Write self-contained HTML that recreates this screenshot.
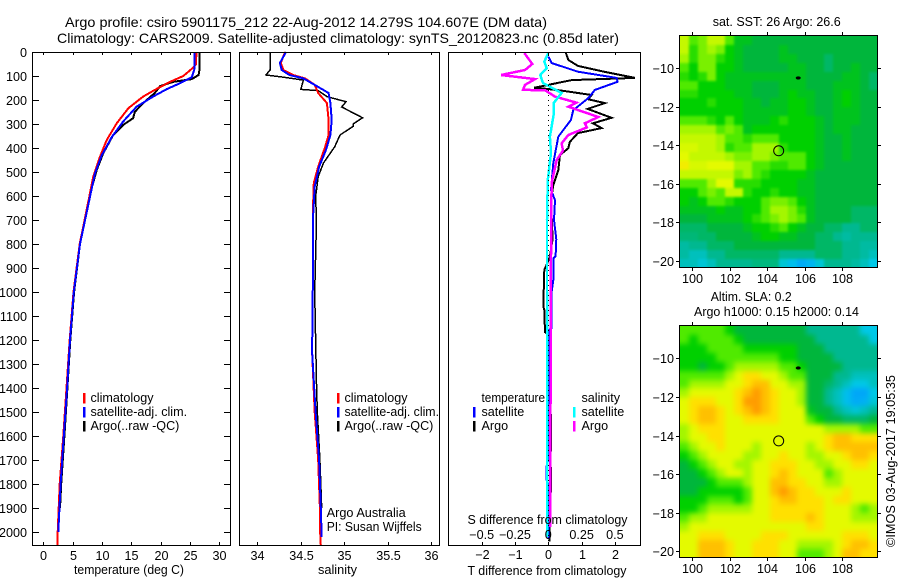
<!DOCTYPE html>
<html><head><meta charset="utf-8"><title>Argo profile</title>
<style>
html,body{margin:0;padding:0;background:#fff;width:900px;height:580px;overflow:hidden}
svg{display:block}
text{font-family:"Liberation Sans",sans-serif;font-size:12.6px;fill:#000}
.ln{fill:none;shape-rendering:crispEdges;stroke-linejoin:miter}
.fr{fill:none;stroke:#000;stroke-width:1;shape-rendering:crispEdges}
.tk{stroke:#000;stroke-width:1;shape-rendering:crispEdges}
.bar{shape-rendering:crispEdges}
</style></head>
<body>
<svg id="fig" width="900" height="580" viewBox="0 0 900 580" xmlns="http://www.w3.org/2000/svg">
<defs>
<clipPath id="clipSst"><rect x="680" y="36" width="198" height="232"/></clipPath>
<clipPath id="clipSla"><rect x="680" y="326" width="198" height="232"/></clipPath>
<filter id="blurSst" filterUnits="userSpaceOnUse" x="640" y="0" width="260" height="300" color-interpolation-filters="sRGB"><feGaussianBlur stdDeviation="1.2"/></filter>
<filter id="blurSla" filterUnits="userSpaceOnUse" x="640" y="290" width="260" height="290" color-interpolation-filters="sRGB"><feGaussianBlur stdDeviation="2.6"/></filter>
</defs>
<rect width="900" height="580" fill="#fff"/>
<text x="65" y="27" style="font-size:14px" textLength="482" lengthAdjust="spacingAndGlyphs">Argo profile: csiro 5901175_212 22-Aug-2012 14.279S 104.607E (DM data)</text>
<text x="57" y="43" style="font-size:14px" textLength="562" lengthAdjust="spacingAndGlyphs">Climatology: CARS2009. Satellite-adjusted climatology: synTS_20120823.nc (0.85d later)</text>
<g id="linesLayer"></g>
<g clip-path="url(#clipSst)"><g id="sstCells" filter="url(#blurSst)"></g></g>
<g clip-path="url(#clipSla)"><g id="slaCells" filter="url(#blurSla)"></g></g>
<rect class="fr" x="32.5" y="52.5" width="198" height="493"/>
<rect class="fr" x="239.5" y="52.5" width="200" height="493"/>
<rect class="fr" x="448.5" y="52.5" width="192" height="493"/>
<rect class="fr" x="679.5" y="35.5" width="198" height="232"/>
<rect class="fr" x="679.5" y="325.5" width="198" height="232"/>
<g id="axisLayer"></g>

<text x="74" y="574" textLength="110" lengthAdjust="spacingAndGlyphs">temperature (deg C)</text>
<text x="318" y="574" textLength="39" lengthAdjust="spacingAndGlyphs">salinity</text>
<text x="467.5" y="524" textLength="160" lengthAdjust="spacingAndGlyphs">S difference from climatology</text>
<text x="467.5" y="575" textLength="159" lengthAdjust="spacingAndGlyphs">T difference from climatology</text>

<g>
<rect class="bar" x="83" y="393" width="2.5" height="10.5" fill="#f00"/>
<rect class="bar" x="83" y="407" width="2.5" height="10.5" fill="#00f"/>
<rect class="bar" x="83" y="421" width="2.5" height="10.5" fill="#000"/>
<text x="90.5" y="402">climatology</text>
<text x="90.5" y="416">satellite-adj. clim.</text>
<text x="90.5" y="430">Argo(..raw -QC)</text>
</g>
<g>
<rect class="bar" x="337" y="393" width="2.5" height="10.5" fill="#f00"/>
<rect class="bar" x="337" y="407" width="2.5" height="10.5" fill="#00f"/>
<rect class="bar" x="337" y="421" width="2.5" height="10.5" fill="#000"/>
<text x="344.5" y="402">climatology</text>
<text x="344.5" y="416" textLength="94.5" lengthAdjust="spacingAndGlyphs">satellite-adj. clim.</text>
<text x="344.5" y="430">Argo(..raw -QC)</text>
<text x="326.7" y="517" textLength="79" lengthAdjust="spacingAndGlyphs">Argo Australia</text>
<text x="326.7" y="531" textLength="95" lengthAdjust="spacingAndGlyphs">PI: Susan Wijffels</text>
</g>
<g>
<rect class="bar" x="473" y="407" width="2.5" height="10.5" fill="#00f"/>
<rect class="bar" x="473" y="421" width="2.5" height="10.5" fill="#000"/>
<rect class="bar" x="573" y="407" width="2.5" height="10.5" fill="#0ff"/>
<rect class="bar" x="573" y="421" width="2.5" height="10.5" fill="#f0f"/>
<text x="481.5" y="402" textLength="63.5" lengthAdjust="spacingAndGlyphs">temperature</text>
<text x="481.5" y="416">satellite</text>
<text x="481.5" y="430">Argo</text>
<text x="581.5" y="402">salinity</text>
<text x="581.5" y="416">satellite</text>
<text x="581.5" y="430">Argo</text>
</g>

<text x="712.7" y="26" textLength="128" lengthAdjust="spacingAndGlyphs">sat. SST: 26 Argo: 26.6</text>
<text x="710.7" y="301" textLength="81" lengthAdjust="spacingAndGlyphs">Altim. SLA: 0.2</text>
<text x="694" y="316" textLength="165" lengthAdjust="spacingAndGlyphs">Argo h1000: 0.15 h2000: 0.14</text>
<text transform="translate(895,547) rotate(-90)" textLength="172" lengthAdjust="spacingAndGlyphs">©IMOS 03-Aug-2017 19:05:35</text>
</svg>
<script>
/* ---- chart data ---- */
var depthTicks = [0,100,200,300,400,500,600,700,800,900,1000,1100,1200,1300,1400,1500,1600,1700,1800,1900,2000];
var tempTicks = [0,5,10,15,20,25,30];
var salTicks = [34,34.5,35,35.5,36];
var tDiffTicks = [-2,-1,0,1,2];
var tDiffLabels = ['−2','−1','0','1','2'];
var sDiffTicks = [-0.5,-0.25,0,0.25,0.5];
var sDiffLabels = ['−0.5','−0.25','0','0.25','0.5'];
var lonTicks = [100,102,104,106,108];
var latTicks = [10,12,14,16,18,20];

var tempClimDepth = [0,50,68,100,124,158,186,234,297,367,436,519,603,800,1000,1200,1400,1600,1800,2000,2055];
var tempClimValue = [26.07,26.05,25.4,23.85,21.6,19.0,17.0,14.5,12.5,10.8,9.66,8.5,7.84,6.2,5.15,4.5,3.95,3.4,2.8,2.45,2.38];
var tempSatDepth = [0,60,75,105,130,155,186,228,290,355,431,505,603,800,1000,1200,1400,1600,1800,2000];
var tempSatValue = [25.8,25.8,25.7,25.3,23.3,21,18.7,15.9,13.6,11.65,9.95,8.8,7.96,6.25,5.2,4.55,4.05,3.5,2.95,2.55];
var tempArgoDepth = [0,75,96,113,124,142,171,213,249,276,304,346,422,492,603,800,1000,1200,1400,1600,1800,1900];
var tempArgoValue = [26.6,26.6,26.45,25.3,22.2,19.9,19,17,15.6,15.3,13.6,11.9,10.2,9.1,7.84,6.25,5.25,4.6,4.1,3.6,3.05,2.85];

var salClimDepth = [0,46,75,96,110,137,171,213,283,346,395,478,546,646,900,1250,1500,1700,1900,1980,2055];
var salClimValue = [34.32,34.27,34.3,34.41,34.55,34.66,34.7,34.8,34.82,34.82,34.78,34.7,34.65,34.64,34.64,34.63,34.66,34.7,34.72,34.72,34.73];
var salSatDepth = [0,46,75,96,110,137,171,213,283,346,408,478,561,690,900,1250,1500,1700,1900,2020];
var salSatValue = [34.33,34.26,34.28,34.37,34.53,34.66,34.82,34.84,34.855,34.84,34.79,34.71,34.66,34.64,34.64,34.63,34.67,34.71,34.73,34.74];
var salArgoDepth = [0,62,75,96,105,117,156,161,186,207,229,274,300,310,346,395,463,519,603,700,1000,1383,1500,1700,1900];
var salArgoValue = [34.146,34.146,34.146,34.1,34.3,34.53,34.5,34.7,34.8,35.02,34.97,35.21,35.1,35.1,34.95,34.89,34.76,34.7,34.67,34.68,34.66,34.68,34.69,34.72,34.74];

var tDiffArgoDepth = [4,33,58,83,108,117,149,153,161,179,197,213,237,274,297,317,338,374,401,429,492,554,617,780,850,880,908,1060,1075,1167,1180,1500,1512,1658,1700,1735,1830,1860,2040];
var tDiffArgoValue = [0.53,0.6,0.89,1.7,2.6,0.7,-0.43,-0.1,0.4,1.3,1.2,1.7,1.18,1.9,1.34,1.6,0.89,0.65,0.6,0.35,0.3,0.15,0.08,0.13,0.05,-0.03,-0.12,-0.15,-0.12,-0.1,0,0.03,0.08,0.08,0.04,0.08,0.08,0.03,0.03];
var tDiffSatDepth = [19,46,82,108,124,158,192,242,283,353,463,575,617,700,780,850,860,950,1000,1150,1160,1700,1730,1780,1800,2030];
var tDiffSatValue = [0,0.1,0.89,2.05,2.08,1.4,1.2,0.75,0.68,0.3,0.15,0.08,0.2,0.17,0.24,0.22,0.15,0.15,0.1,0.1,0,0,-0.06,-0.06,0,0];
var sDiffArgoDepth = [4,50,75,96,113,137,158,159,186,211,228,271,297,314,346,381,410,450,546,1000,1980];
var sDiffArgoValue = [-0.18,-0.12,-0.175,-0.355,-0.1,-0.175,-0.19,-0.025,0.05,0.21,0.15,0.375,0.275,0.29,0.15,0.1,0.11,0.063,0.025,0.018,0.015];
var sDiffSatDepth = [4,40,67,96,129,171,213,262,353,421,533,700,1000,1500,2020];
var sDiffSatValue = [0,-0.03,-0.012,-0.06,-0.04,0.1,0.04,0.04,0.012,0.02,-0.004,-0.01,-0.01,-0.01,-0.01];

var floatLon = 104.607;
var floatLat = 14.279;
var trackLon = 105.65;
var trackLat = 10.5;

var levelColors = ['#0098ff','#00c8e8','#00b890','#00b63c','#00d000','#50ea00','#a4f600','#e4fa00','#ffe000','#ffc000','#ff9c00'];

var sstGrid = [
[6.5,5,5.5,6.5,6.5,5,3.5,3.5,3,3,3,3,3,3,3,3,3,3,3,3,3,3],
[6.5,4.5,5.5,6,5.5,4,3.5,3,3,3,3,3.5,3,3,3,3,3,3,3,3,3,3],
[6,4.5,5.5,5.5,4.5,4,3.5,3,3,3,3,3.5,3.5,3,3,3,2.5,3,3,3,3,3],
[5,4,5.5,5.5,4,4,3.5,3,3,3,3,3,3.5,3.5,3,3,2.5,3,3,3.5,3,3],
[4.5,4,4.5,5.5,4,3.5,3.5,3.5,3.5,3.5,3.5,3.5,3.5,3.5,3,3,3,3,3.5,3.5,3,2.5],
[5,5,4,4,4,3.5,3.5,3.5,3,3,3,3.5,3.5,3.5,3,3,3,3.5,3.5,3.5,3,2.5],
[4.5,4.5,4,4,4,4,3.5,3.5,3,3,3,3.5,4,3.5,3.5,3,3,3.5,4,3.5,3,3],
[4,4,4,4.5,4,4,4,3.5,3.5,3,3.5,3.5,4,4,3.5,3,3,3.5,4,3.5,3,3],
[4,4,4,4,4,4,4,3.5,3.5,3.5,3.5,3.5,4,4,3.5,3,3,3.5,3.5,3.5,3,3],
[5,5,5,4.5,4,5,4,3.5,3.5,3.5,4,4.5,4,4,4,3.5,3,3.5,3.5,3.5,3,3],
[6,6,6,6,5,5.5,5,3.5,4,4,4,4,4,4,4,3.5,3,3.5,3.5,3,3,3],
[6.5,6.5,6.5,6.5,6,5,5,4.5,5,5,5,4,4,4,4,3.5,3,3,3.5,3,3,3],
[6.8,6.8,6.5,6.5,6,4.5,5,5,6,6,6,4.5,4,4,4,3.5,3,3,3.5,3,3,3],
[7,6.5,6.5,6.5,6.5,6,5.5,5.5,6,6,5.5,5,5,5,4,3.5,3,3,3.5,3,3,3],
[7.5,6.8,6.8,7,7,7,6,6,5,5,4.5,4.5,5,5,4,3.5,3,3,3,3,3,3],
[6.5,6.5,6.5,6.5,6.5,6.5,5.5,6,5,4.5,4,4,4,4,3.5,3,3,3,3,3,3,3],
[5,5,5,6,7,7,4.5,4.5,4.5,4,4,4,4,3.5,3.5,3,3,3,3,3,3,3],
[4,4,5,5.5,5,6.5,6.5,4.5,4,4,4.5,4,4,3.5,3.5,3,3,3,3,3,3,3],
[4,3.5,4,5,5,4.5,4,4,4,5,5.5,5.5,5,4,3.5,3,3,3,3,3,3,3],
[3.5,3.5,3.5,3.5,4,3.5,3.5,4,4,5,6,6,5.5,4.5,3.5,3,3,3,3,2.5,2.5,2.5],
[3,3,3,3.5,3.5,3.5,3.5,4,4.5,5,5.5,6,5.5,5,3.5,3,3,3,3,2.5,2.5,2.5],
[2.5,2.5,2.5,3,3,3,3,3.5,4,4,4.5,5,4,3.5,3,3,2.5,2.5,2,2,2.5,2.5],
[2.3,2.3,2.5,2.5,3,3,3,3,3.5,4,4,3.5,3.5,3,3,2.5,2.5,2,1.8,2,2,2],
[1.8,2,2,2.5,2.5,2.5,3,3,3,3,3,3,3,3,3,2.5,2.5,2.5,2,2,1.8,1.8],
[1.8,1.5,1.5,2,2,2.5,2.5,2.5,2.5,2.5,2.5,2,2,2,2,2.5,2.5,2.5,2,2,1.8,1.5],
[1.5,1.5,1.2,1.5,2,2,2,2,2.2,2.2,2.2,1.2,0.8,0.4,0.6,1.2,2,2,2,1.8,1.5,1]
];
var slaGrid = [
[5,5,5,5,5,4,3,3,3,3,3,3,3,3,2,2,2,2,2,2,1,1],
[5,4,5,5,5,5,4,3,3,3,3,3,3,3,3,2,2,2,2,2,2,1],
[4,4,4,5,5,5,5,4,4,4,4,4,4,3,3,3,2,2,2,2,2,2],
[4,4,4,4,5,5,5,5,5,5,5,4,4,3,3,3,3,2,2,2,2,2],
[4,4,3,4,4,5,6,6,6,6,6,5,5,4,3,3,3,3,2,2,2,2],
[5,5,5,5,5,6,7,8,8,7,7,6,5,5,3,3,3,2,2,1.5,1.5,1.5],
[5,6,6,6,6,7,7,8,9,9,7,7,6,6,3,3,2.5,2,1.5,1,1,1.5],
[6,7,7,7,7,7,8,9,10,9,8,7,7,6,3,3,2,1.5,0.8,0.3,0.3,1],
[7,8,8,8,7,7,8,10,10,9,8,7,7,6,3,3,2,1.5,0.8,0.4,0.5,1.2],
[7,8,9,9,8,7,8,9,10,9,8,7,7,7,3.5,3,3,2,1.5,1.2,1.5,2],
[7,8,9,9,8,7,7,8,8,8,8,7,7,7,5,4,3,3,2.5,2.5,2.5,3],
[6,7,8,8,8,7,7,7,7,7,7,7,7,7,7,7,6,6,6,6,5,5],
[6,7,7,8,8,7,7,7,7,7,7,7,7,7,7,7,8,9,9,8,8,8],
[5,6,7,7,8,7,7,7,6,7,7,7,7,7,6,7,8,9,9,9,9,9],
[4,5,6,7,7,7,7,6,6,7,7,8,7,7,6,6,7,7,8,9,9,8],
[3,4,5,6,7,7,6,6,7,7,8,8,8,7,7,6,6,7,7,8,8,7],
[3,3,4,5,6,7,7,6,7,7,8,9,8,7,7,7,5,6,7,7,7,7],
[3,3,3,4,5,5,5,6,7,7,9,9,8,8,7,7,6,6,7,7,7,7],
[3,3,4,4,4,4,4,5,7,7,9,10,9,8,8,7,7,7,8,7,7,7],
[4,4,4,5,5,5,4,5,7,7,8,9,9,8,8,8,7,8,8,7,7,7],
[4,4,5,6,6,6,6,6,7,7,8,8,8,8,8,8,7,7,7,6,5,6],
[5,6,6,7,7,7,7,7,7,7,8,8,8,8,9,8,7,7,7,6,6,6],
[6,7,7,7,7,7,7,7,7,7,7,7,7,7,8,8,7,7,7,7,7,7],
[7,7,8,8,8,7,7,7,7,8,8,8,7,7,7,7,7,7,8,8,8,7],
[7,7,9,9,9,8,7,7,8,8,8,7,7,6,6,6,6,7,8,9,9,8],
[7,7,9,9,9,8,7,7,8,8,8,7,7,5,5,5,6,7,9,9,8,8]
];

/* ---- axis functions ---- */
var NS = 'http://www.w3.org/2000/svg';
var lines = document.getElementById('linesLayer');
var axes = document.getElementById('axisLayer');
function yDepth(d){ return 52 + 0.24 * d; }
function xTemp(t){ return 43.3 + 5.87 * t; }
function xSal(s){ return 257.3 + 87 * (s - 34); }
function xTDiff(v){ return 548.3 + 33.3 * v; }
function xSDiff(v){ return 548.3 + 133.2 * v; }
function xLon(l){ return 692.3 + 18.75 * (l - 100); }
function yLat1(l){ return 68.3 + 19.27 * (l - 10); }
function yLat2(l){ return 358.3 + 19.3 * (l - 10); }

function make(tag, parent){ var e = document.createElementNS(NS, tag); parent.appendChild(e); return e; }

function drawSeries(depths, values, xFn, color, width, seriesName){
  var pts = [];
  for (var i = 0; i < depths.length; i++){ pts.push(xFn(values[i]).toFixed(1) + ',' + yDepth(depths[i]).toFixed(1)); }
  var p = make('polyline', lines);
  p.setAttribute('class', 'ln');
  p.setAttribute('points', pts.join(' '));
  p.setAttribute('stroke', color);
  p.setAttribute('stroke-width', width);
  
  
}
function tick(x1, y1, x2, y2, tickName){
  var l = make('line', axes);
  l.setAttribute('class', 'tk');
  l.setAttribute('x1', x1); l.setAttribute('y1', y1);
  l.setAttribute('x2', x2); l.setAttribute('y2', y2);
  
  
}
function label(x, y, s, anchor, labelName){
  var t = make('text', axes);
  t.setAttribute('x', x); t.setAttribute('y', y);
  t.setAttribute('text-anchor', anchor);
  t.textContent = s;
  
  
}

/* lines (back to front) */
drawSeries(tempArgoDepth, tempArgoValue, xTemp, '#000', 2, 'temperature-argo-line');
drawSeries(tempClimDepth, tempClimValue, xTemp, '#f00', 2, 'temperature-climatology-line');
drawSeries(tempSatDepth, tempSatValue, xTemp, '#00f', 2, 'temperature-satellite-line');
drawSeries(salArgoDepth, salArgoValue, xSal, '#000', 1.5, 'salinity-argo-line');
drawSeries(salClimDepth, salClimValue, xSal, '#f00', 2, 'salinity-climatology-line');
drawSeries(salSatDepth, salSatValue, xSal, '#00f', 2, 'salinity-satellite-line');
drawSeries(tDiffArgoDepth, tDiffArgoValue, xTDiff, '#000', 2, 't-difference-argo-line');
drawSeries(tDiffSatDepth, tDiffSatValue, xTDiff, '#00f', 2, 't-difference-satellite-line');
drawSeries(sDiffArgoDepth, sDiffArgoValue, xSDiff, '#f0f', 2.5, 's-difference-argo-line');
drawSeries(sDiffSatDepth, sDiffSatValue, xSDiff, '#0ff', 2.5, 's-difference-satellite-line');

/* zero line in difference panel */
for (var zy = 55; zy < 545; zy += 5){
  var dot = make('rect', axes);
  dot.setAttribute('x', 548); dot.setAttribute('y', zy);
  dot.setAttribute('width', 1); dot.setAttribute('height', 1);
  dot.setAttribute('fill', '#000');
  
  
}

/* panel 1 axes */
depthTicks.forEach(function(d){
  var y = Math.round(yDepth(d)) + 0.5;
  tick(33, y, 39, y, 'depth-tick-left');
  tick(224, y, 230, y, 'depth-tick-right');
  label(27, y + 4.5, String(d), 'end', 'depth-tick-label');
});
tempTicks.forEach(function(t){
  var x = Math.round(xTemp(t)) + 0.5;
  tick(x, 52, x, 55, 'temperature-tick-top');
  tick(x, 542, x, 545, 'temperature-tick-bottom');
  label(x, 560, String(t), 'middle', 'temperature-tick-label');
});
/* panel 2 axes */
salTicks.forEach(function(s){
  var x = Math.round(xSal(s)) + 0.5;
  tick(x, 52, x, 55, 'salinity-tick-top');
  tick(x, 542, x, 545, 'salinity-tick-bottom');
  label(x, 560, String(s), 'middle', 'salinity-tick-label');
});
/* panel 3 axes */
tDiffTicks.forEach(function(v, i){
  var x = Math.round(xTDiff(v)) + 0.5;
  tick(x, 52, x, 55, 't-difference-tick-top');
  tick(x, 542, x, 545, 't-difference-tick-bottom');
  label(x, 559, tDiffLabels[i], 'middle', 't-difference-tick-label');
});
sDiffTicks.forEach(function(v, i){
  label(xSDiff(v), 539, sDiffLabels[i], 'middle', 's-difference-tick-label');
});

/* maps: one cell per grid value; edge cells bleed outside the clip so the blur has no white fringe */
function drawMap(grid, top, parentId, cellName){
  var host = document.getElementById(parentId);
  var rows = grid.length, cols = grid[0].length;
  var cw = 198 / cols, ch = 232 / rows;
  for (var r = 0; r < rows; r++){
    for (var c = 0; c < cols; c++){
      var v = grid[r][c];
      var lo = Math.floor(v), hi = Math.min(lo + 1, levelColors.length - 1), f = v - lo;
      var a = parseInt(levelColors[lo].slice(1), 16), b = parseInt(levelColors[hi].slice(1), 16);
      var R = Math.round((a >> 16) + ((b >> 16) - (a >> 16)) * f);
      var G = Math.round(((a >> 8) & 255) + (((b >> 8) & 255) - ((a >> 8) & 255)) * f);
      var B = Math.round((a & 255) + ((b & 255) - (a & 255)) * f);
      var x0 = Math.round(680 + c * cw), x1 = Math.round(680 + (c + 1) * cw);
      var y0 = Math.round(top + r * ch), y1 = Math.round(top + (r + 1) * ch);
      if (c === 0) x0 -= 20;
      if (c === cols - 1) x1 += 20;
      if (r === 0) y0 -= 20;
      if (r === rows - 1) y1 += 20;
      var cell = make('rect', host);
      cell.setAttribute('x', x0); cell.setAttribute('y', y0);
      cell.setAttribute('width', x1 - x0); cell.setAttribute('height', y1 - y0);
      cell.setAttribute('fill', 'rgb(' + R + ',' + G + ',' + B + ')');
      cell.setAttribute('shape-rendering', 'crispEdges');
      
      
    }
  }
}
drawMap(sstGrid, 36, 'sstCells', 'sst-cell');
drawMap(slaGrid, 326, 'slaCells', 'sla-cell');

function mapAxes(top, bottom, yFn, labelY, prefix){
  lonTicks.forEach(function(l){
    var x = Math.round(xLon(l)) + 0.5;
    tick(x, top - 3, x, top, prefix + '-lon-tick-top');
    tick(x, bottom, x, bottom + 3, prefix + '-lon-tick-bottom');
    label(x, labelY, String(l), 'middle', prefix + '-lon-tick-label');
  });
  latTicks.forEach(function(l){
    var y = Math.round(yFn(l)) + 0.5;
    tick(676, y, 679, y, prefix + '-lat-tick-left');
    tick(878, y, 881, y, prefix + '-lat-tick-right');
    label(674, y + 4.5, '−' + l, 'end', prefix + '-lat-tick-label');
  });
  var circ = make('circle', axes);
  circ.setAttribute('cx', xLon(floatLon)); circ.setAttribute('cy', yFn(floatLat));
  circ.setAttribute('r', 5);
  circ.setAttribute('fill', 'none');
  circ.setAttribute('stroke', '#000');
  circ.setAttribute('stroke-width', 1);
  
  
  var blot = make('ellipse', axes);
  blot.setAttribute('cx', xLon(trackLon)); blot.setAttribute('cy', yFn(trackLat));
  blot.setAttribute('rx', 2.5); blot.setAttribute('ry', 1.6);
  blot.setAttribute('fill', '#000');
  
  
}
mapAxes(35, 268, yLat1, 283, 'sst');
mapAxes(325, 558, yLat2, 573, 'sla');
</script>
</body></html>
